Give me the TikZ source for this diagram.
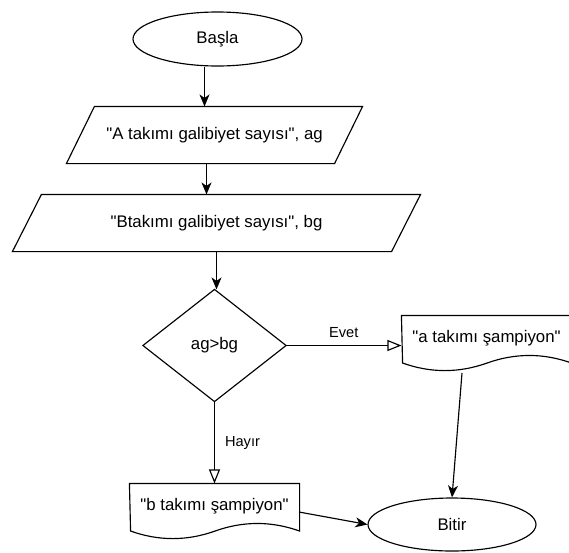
\documentclass[tikz,border=0pt]{standalone}
\usepackage{fontspec}
\setmainfont{Liberation Sans}[Ligatures=TeXOff]
\usetikzlibrary{arrows.meta,shapes.geometric,calc}
\newcommand\docoutline[1]{%
  \draw (#1.north west) -- (#1.north east) -- ++(0,47.6)
    .. controls +(-28.17,-10.08) and +(28.17,-10.08) .. ++(-84.5,0)
    .. controls +(-28.17,10.08) and +(28.17,10.08) .. ++(-84.5,0) -- cycle;}
\begin{document}
\begin{tikzpicture}[x=1pt,y=-1pt,
  line width=1.15pt,
  txt/.style={font=\fontsize{16.8}{20}\selectfont},
  box/.style={txt,draw=none,rectangle,inner sep=0pt},
  term/.style={txt,draw,ellipse,inner sep=0pt},
  arr/.style={-{Stealth[length=12pt,width=10pt,inset=3.5pt]}},
  oarr/.style={-{Triangle[open,length=14pt,width=11pt]}},
  lbl/.style={font=\fontsize{14.6}{17}\selectfont,inner sep=0pt}
]
\useasboundingbox (0,0) rectangle (569,552);

% nodes
\node[term,minimum width=169pt,minimum height=54pt] (start) at (217.5,39) {Başla};
\node[box,minimum width=267pt,minimum height=56pt] (p1) at (214.5,135) {"A takımı galibiyet sayısı", ag};
\node[box,minimum width=378pt,minimum height=56pt] (p2) at (216.5,223) {"Btakımı galibiyet sayısı", bg};
\node[box,minimum width=142pt,minimum height=111pt] (dia) at (214.5,345.5) {ag>bg};
\node[box,minimum width=169pt,minimum height=44pt] (docA) at (486.5,338) {"a takımı şampiyon"};
\node[box,minimum width=169pt,minimum height=44pt] (docB) at (214.5,506) {"b takımı şampiyon"};
\node[term,minimum width=168pt,minimum height=53pt] (end) at (452,524.5) {Bitir};

% outlines
\draw ([xshift=14pt]p1.north west) -- ([xshift=14pt]p1.north east)
  -- ([xshift=-14pt]p1.south east) -- ([xshift=-14pt]p1.south west) -- cycle;
\draw ([xshift=14.5pt]p2.north west) -- ([xshift=14.5pt]p2.north east)
  -- ([xshift=-14.5pt]p2.south east) -- ([xshift=-14.5pt]p2.south west) -- cycle;
\draw (dia.north) -- (dia.east) -- (dia.south) -- (dia.west) -- cycle;
\docoutline{docA}
\docoutline{docB}

% connectors
\draw[arr] ([xshift=-13pt]start.south) -- ([xshift=-13pt]start.south |- p1.north);
\draw[arr] ([xshift=-8pt]p1.south) -- ([xshift=-8pt]p1.south |- p2.north);
\draw[arr] (p2.south) -- (p2.south |- dia.north);
\draw[oarr] (dia.east) -- (dia.east -| docA.west) node[lbl,midway,yshift=13pt] (evet) {Evet};
\draw[oarr] (dia.south) -- (dia.south |- docB.north) node[lbl,midway,xshift=28pt] (hayir) {Hayır};
\coordinate (aOut) at (462,373);
\draw[arr] (aOut) -- (end.north);
\coordinate (bOut) at (299,512);
\draw[arr] (bOut) -- (end.west);
\end{tikzpicture}
\end{document}
